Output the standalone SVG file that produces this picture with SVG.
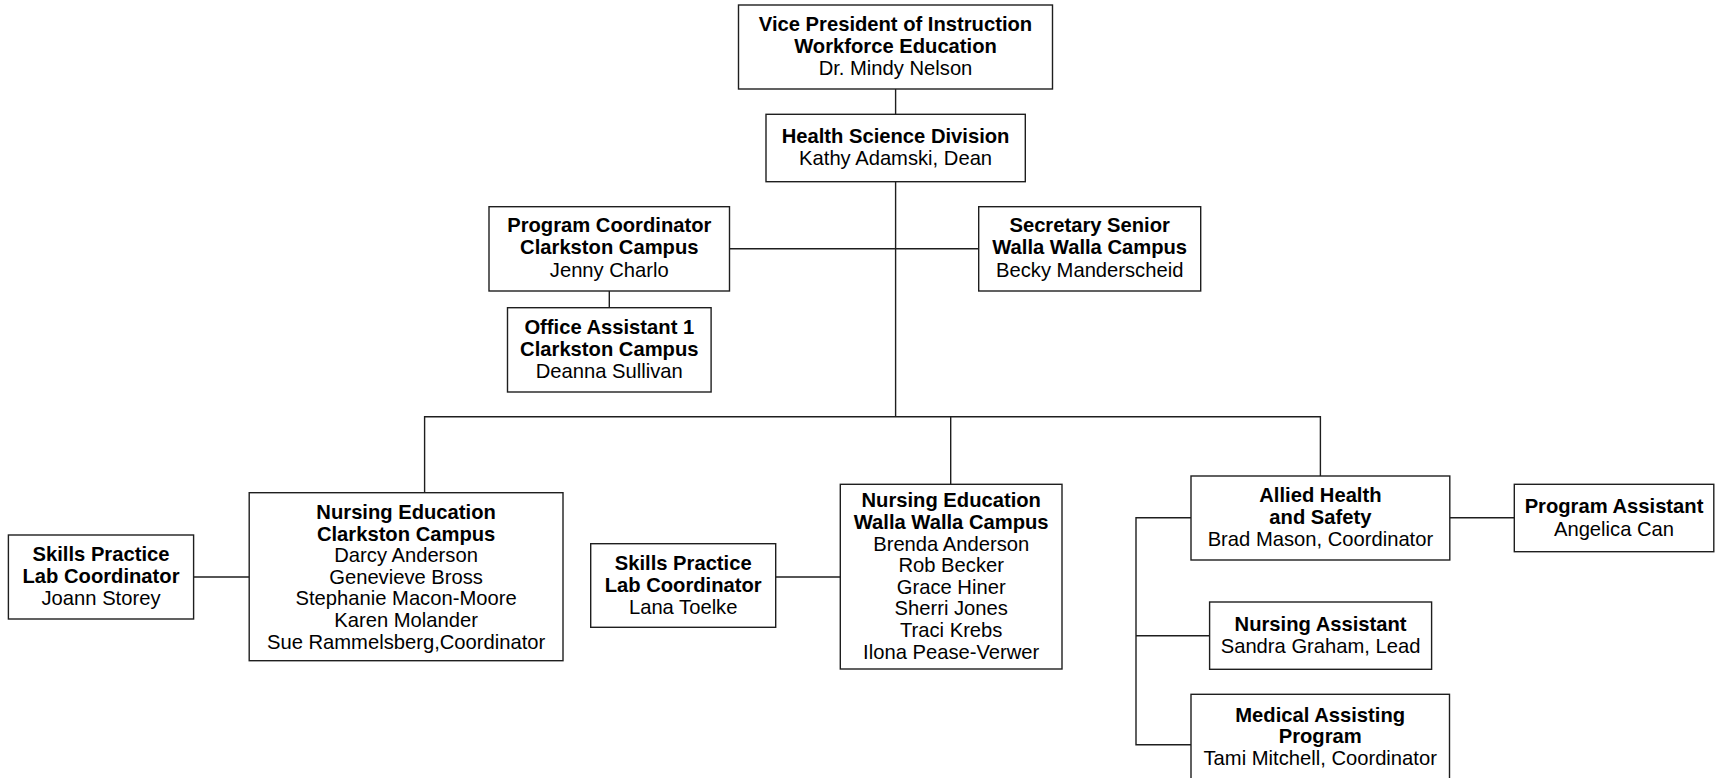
<svg xmlns="http://www.w3.org/2000/svg" width="1715" height="778" viewBox="0 0 1715 778">
<style>
  .box { fill: #ffffff; stroke: #1e1e1e; stroke-width: 1.4; }
  .conn { fill: none; stroke: #1e1e1e; stroke-width: 1.4; }
  text { font-family: "Liberation Sans", Arial, sans-serif; font-size: 20.2px; fill: #000000; text-anchor: middle; }
  .b { font-weight: bold; }
</style>
<rect x="0" y="0" width="1715" height="778" fill="#ffffff"/>
<g id="connectors">
  <path class="conn" d="M895.6,89 V114.3"/>
  <path class="conn" d="M895.6,181.7 V416.7"/>
  <path class="conn" d="M729.5,248.7 H978.7"/>
  <path class="conn" d="M609.3,291 V307.7"/>
  <path class="conn" d="M424.6,492.7 V416.7 H1320.4 V476"/>
  <path class="conn" d="M950.7,416.7 V484.3"/>
  <path class="conn" d="M193.6,577 H249.2"/>
  <path class="conn" d="M775.7,577 H840.3"/>
  <path class="conn" d="M1449.8,517.7 H1514.3"/>
  <path class="conn" d="M1191,517.7 H1136 V744.7 H1191"/>
  <path class="conn" d="M1136,635.7 H1209.6"/>
</g>
<g id="vp">
  <rect class="box" x="738.5" y="5" width="314" height="84"/>
  <text class="b" x="895.5" y="30.7">Vice President of Instruction</text>
  <text class="b" x="895.5" y="52.7">Workforce Education</text>
  <text x="895.5" y="75">Dr. Mindy Nelson</text>
</g>
<g id="hs">
  <rect class="box" x="766" y="114.3" width="259.3" height="67.4"/>
  <text class="b" x="895.6" y="143.3">Health Science Division</text>
  <text x="895.6" y="165">Kathy Adamski, Dean</text>
</g>
<g id="pc">
  <rect class="box" x="489" y="206.7" width="240.5" height="84.3"/>
  <text class="b" x="609.3" y="232.2">Program Coordinator</text>
  <text class="b" x="609.3" y="254.4">Clarkston Campus</text>
  <text x="609.3" y="276.6">Jenny Charlo</text>
</g>
<g id="ss">
  <rect class="box" x="978.7" y="206.7" width="222" height="84.3"/>
  <text class="b" x="1089.7" y="232.2">Secretary Senior</text>
  <text class="b" x="1089.7" y="254.4">Walla Walla Campus</text>
  <text x="1089.7" y="276.6">Becky Manderscheid</text>
</g>
<g id="oa">
  <rect class="box" x="507.5" y="307.7" width="203.6" height="84.3"/>
  <text class="b" x="609.3" y="333.7">Office Assistant 1</text>
  <text class="b" x="609.3" y="355.7">Clarkston Campus</text>
  <text x="609.3" y="377.7">Deanna Sullivan</text>
</g>
<g id="nec">
  <rect class="box" x="249.2" y="492.7" width="313.8" height="168"/>
  <text class="b" x="406.1" y="519">Nursing Education</text>
  <text class="b" x="406.1" y="540.6">Clarkston Campus</text>
  <text x="406.1" y="562.2">Darcy Anderson</text>
  <text x="406.1" y="583.8">Genevieve Bross</text>
  <text x="406.1" y="605.4">Stephanie Macon-Moore</text>
  <text x="406.1" y="627">Karen Molander</text>
  <text x="406.1" y="648.6">Sue Rammelsberg,Coordinator</text>
</g>
<g id="spj">
  <rect class="box" x="8.4" y="535" width="185.2" height="84"/>
  <text class="b" x="101" y="561.3">Skills Practice</text>
  <text class="b" x="101" y="583.2">Lab Coordinator</text>
  <text x="101" y="605">Joann Storey</text>
</g>
<g id="new">
  <rect class="box" x="840.3" y="484.3" width="221.7" height="184.7"/>
  <text class="b" x="951.2" y="507.3">Nursing Education</text>
  <text class="b" x="951.2" y="528.9">Walla Walla Campus</text>
  <text x="951.2" y="550.5">Brenda Anderson</text>
  <text x="951.2" y="572.1">Rob Becker</text>
  <text x="951.2" y="593.7">Grace Hiner</text>
  <text x="951.2" y="615.3">Sherri Jones</text>
  <text x="951.2" y="636.9">Traci Krebs</text>
  <text x="951.2" y="658.5">Ilona Pease-Verwer</text>
</g>
<g id="spl">
  <rect class="box" x="590.7" y="543.7" width="185" height="83.6"/>
  <text class="b" x="683.2" y="569.5">Skills Practice</text>
  <text class="b" x="683.2" y="591.5">Lab Coordinator</text>
  <text x="683.2" y="613.5">Lana Toelke</text>
</g>
<g id="ah">
  <rect class="box" x="1191" y="476" width="258.8" height="84"/>
  <text class="b" x="1320.4" y="501.7">Allied Health</text>
  <text class="b" x="1320.4" y="523.9">and Safety</text>
  <text x="1320.4" y="546">Brad Mason, Coordinator</text>
</g>
<g id="pa">
  <rect class="box" x="1514.3" y="484.3" width="199.5" height="67.4"/>
  <text class="b" x="1614" y="513.3">Program Assistant</text>
  <text x="1614" y="535.5">Angelica Can</text>
</g>
<g id="na">
  <rect class="box" x="1209.6" y="602" width="222" height="67.3"/>
  <text class="b" x="1320.6" y="631">Nursing Assistant</text>
  <text x="1320.6" y="652.7">Sandra Graham, Lead</text>
</g>
<g id="ma">
  <rect class="box" x="1191" y="694.3" width="258.5" height="100"/>
  <text class="b" x="1320.2" y="721.5">Medical Assisting</text>
  <text class="b" x="1320.2" y="743.3">Program</text>
  <text x="1320.2" y="765">Tami Mitchell, Coordinator</text>
</g>
</svg>
